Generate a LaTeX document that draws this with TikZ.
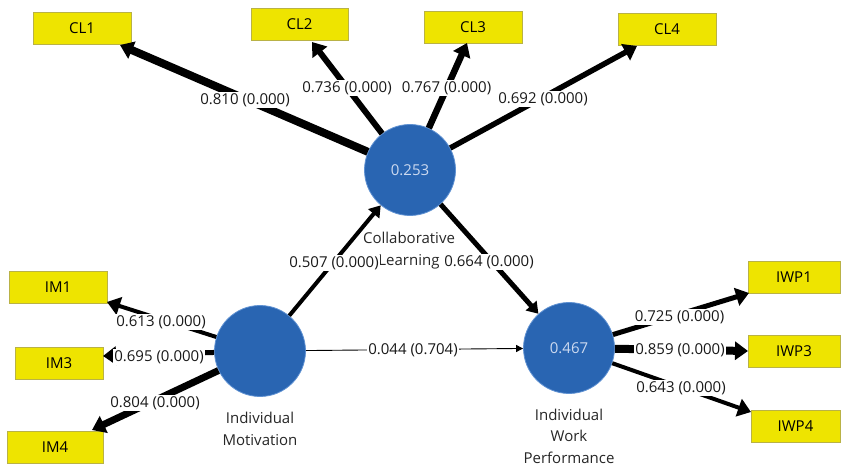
\documentclass[tikz,border=0pt]{standalone}
\usepackage{fontspec}
\setmainfont{Open Sans}
\usetikzlibrary{arrows.meta}
\definecolor{lvblue}{RGB}{41,101,178}
\definecolor{lvedge}{RGB}{95,145,210}
\definecolor{lvtext}{RGB}{205,218,240}
\definecolor{mvyellow}{RGB}{238,228,0}
\definecolor{mvedge}{RGB}{185,178,70}
\begin{document}
\begin{tikzpicture}[x=1pt,y=1pt,
  font=\fontsize{15}{18}\selectfont,
  lv/.style={circle, fill=lvblue, draw=lvedge, line width=0.8pt, minimum size=91pt, inner sep=0pt, text=lvtext},
  mv/.style={rectangle, fill=mvyellow, draw=mvedge, line width=0.6pt, minimum height=32pt, inner sep=0pt},
  wlab/.style={fill=white, inner sep=1pt, text=black!90},
  nlab/.style={align=center, text=black!85},
  load/.style={line width=#1, -{Triangle[length=13pt,width=18pt]}},
  path/.style={line width=#1, -{Triangle[length=11pt,width=14pt]}}
]
\useasboundingbox (0,0) rectangle (841,469);
\clip (0,0) rectangle (841,469);

% latent variables
\node[lv] (CL)  at (410,299) {0.253};
\node[lv] (IM)  at (260,118) {};
\node[lv] (IWP) at (569,121) {0.467};

% circle captions
\node[nlab, font=\fontsize{15}{22}\selectfont] (CLcap)  at (409,218) {Collaborative\\Learning};
\node[nlab, font=\fontsize{15}{22}\selectfont] (IMcap)  at (260,40) {Individual\\Motivation};
\node[nlab, font=\fontsize{15}{21.5}\selectfont] (IWPcap) at (569,33) {Individual\\Work\\Performance};

% indicators
\node[mv, minimum width=98pt] (CL1) at (82,441) {CL1};
\node[mv, minimum width=97pt] (CL2) at (299.5,445) {CL2};
\node[mv, minimum width=98pt] (CL3) at (473,442) {CL3};
\node[mv, minimum width=98pt] (CL4) at (667,439.5) {CL4};
\node[mv, minimum width=98pt] (IM1) at (58,182) {IM1};
\node[mv, minimum width=88pt] (IM3) at (59,105.5) {IM3};
\node[mv, minimum width=96pt] (IM4) at (55,21.5) {IM4};
\node[mv, minimum width=92pt] (IWP1) at (794,192) {IWP1};
\node[mv, minimum width=92pt] (IWP3) at (794,118) {IWP3};
\node[mv, minimum width=89pt] (IWP4) at (795.5,42.5) {IWP4};

% arrow ends
\coordinate (tCL1) at (120,424);
\coordinate (tCL2) at (312,427);
\coordinate (tCL3) at (467,426);
\coordinate (tCL4) at (637,423);
\coordinate (tIM1) at (107,167);
\coordinate (tIM3) at (103,113);
\coordinate (tIM4) at (92,39);
\coordinate (tIWP1) at (749,176);
\coordinate (tIWP3) at (748,118);
\coordinate (tIWP4) at (751,57);

% outer loadings
\draw[load=8pt] (CL) -- (tCL1);
\draw[load=6pt] (CL) -- (tCL2);
\draw[load=6.5pt] (CL) -- (tCL3);
\draw[load=5.5pt] (CL) -- (tCL4);
\draw[load=4pt] (IM) -- (tIM1);
\draw[load=5pt] (IM) -- (tIM3);
\draw[load=7pt] (IM) -- (tIM4);
\draw[load=5pt] (IWP) -- (tIWP1);
\draw[load=8pt] (IWP) -- (tIWP3);
\draw[load=4pt] (IWP) -- (tIWP4);

% structural paths
\draw[path=4pt] (IM) -- (CL);
\draw[path=5pt] (CL) -- (IWP);
\draw[line width=0.9pt, -{Triangle[length=7pt,width=7pt]}] (IM) -- (IWP);

% labels
\node[wlab] (l1) at (245,369) {0.810 (0.000)};
\node[wlab] (l2) at (347,381) {0.736 (0.000)};
\node[wlab] (l3) at (446.5,381) {0.767 (0.000)};
\node[wlab] (l4) at (543,370) {0.692 (0.000)};
\node[wlab] (l5) at (334,206) {0.507 (0.000)};
\node[wlab] (l6) at (489,207) {0.664 (0.000)};
\node[wlab] (l7) at (413,119) {0.044 (0.704)};
\node[wlab] (l8) at (161,147) {0.613 (0.000)};
\node[wlab] (l9) at (159,112) {0.695 (0.000)};
\node[wlab] (l10) at (155,66) {0.804 (0.000)};
\node[wlab] (l11) at (679.5,152) {0.725 (0.000)};
\node[wlab] (l12) at (680,119) {0.859 (0.000)};
\node[wlab] (l13) at (681,81) {0.643 (0.000)};
\end{tikzpicture}
\end{document}
